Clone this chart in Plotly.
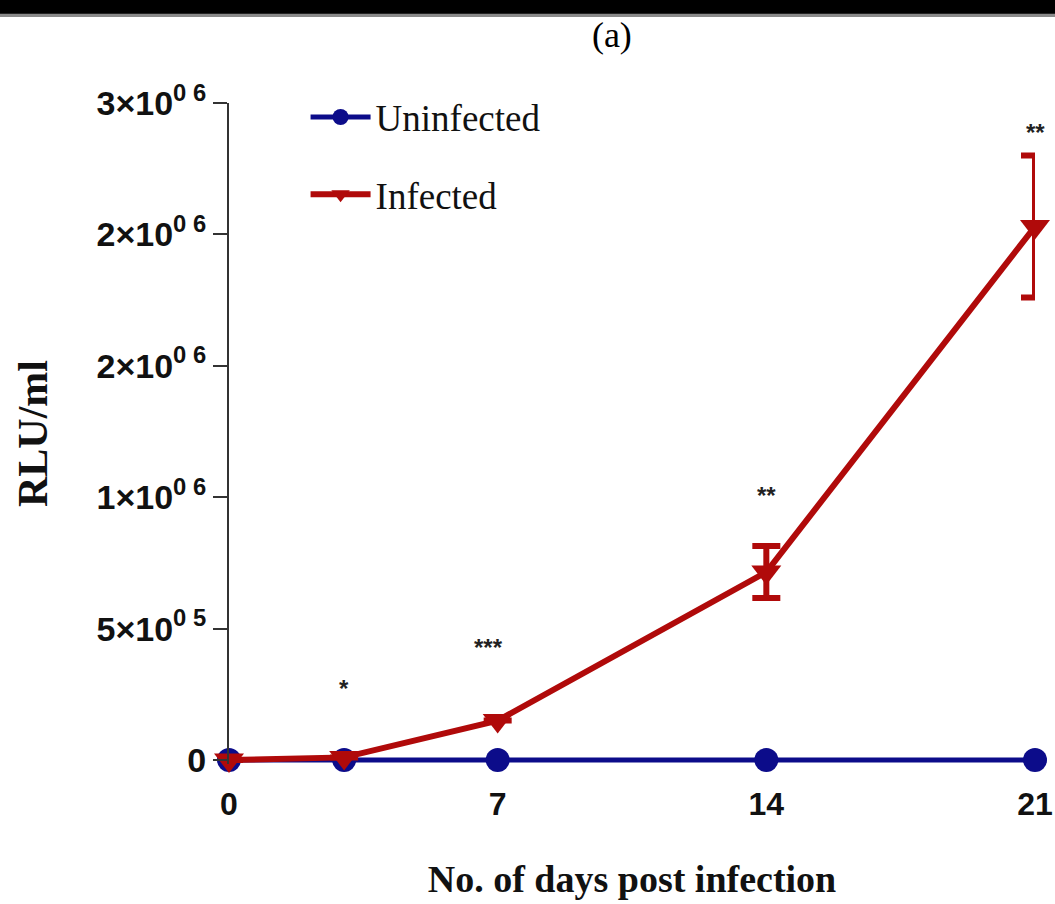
import plotly.graph_objects as go

# Sampling days post infection
days = [0, 3, 7, 14, 21]

# Luminescence readings (RLU/ml)
uninfected = [0, 0, 0, 0, 0]
infected = [0, 10000, 150000, 715000, 2030000]
infected_err = [0, 0, 0, 99000, 270000]

# Significance marks above each time point
sig_days = [3, 6.75, 14, 21]
sig_y = [272000, 428000, 1008000, 2388000]
sig_text = ["*", "***", "**", "**"]

# Axis tick labels
x_ticks = [0, 7, 14, 21]
y_ticks = [0, 500000, 1000000, 1500000, 2000000, 2500000]
y_ticktext = ["0", "5×10<sup>0 5</sup>", "1×10<sup>0 6</sup>", "2×10<sup>0 6</sup>",
              "2×10<sup>0 6</sup>", "3×10<sup>0 6</sup>"]

BLUE = "#0c0c8a"
RED = "#b00a0a"

fig = go.Figure()

fig.add_trace(go.Scatter(
    x=days, y=uninfected, name="Uninfected", mode="lines+markers",
    line=dict(color=BLUE, width=5),
    marker=dict(symbol="circle", size=24, color=BLUE),
    cliponaxis=False, legendgroup="a",
))

fig.add_trace(go.Scatter(
    x=days, y=infected, name="Infected", mode="lines+markers",
    line=dict(color=RED, width=6),
    marker=dict(symbol="triangle-down", size=26, color=RED),
    error_y=dict(type="data", array=infected_err, visible=True,
                 color=RED, thickness=6, width=14),
    cliponaxis=False, legendgroup="b",
))

for xd, yd, t in zip(sig_days, sig_y, sig_text):
    fig.add_annotation(x=xd, y=yd, xref="x", yref="y", text=f"<b>{t}</b>", showarrow=False,
                       font=dict(family="Liberation Sans", size=24, color="#222"))

# dark band across the top of the figure
fig.add_shape(type="rect", xref="paper", yref="paper", x0=-0.5, x1=1.5,
              y0=1.13, y1=1.2, fillcolor="#8a8a8a", line_width=0, layer="above")
fig.add_shape(type="rect", xref="paper", yref="paper", x0=-0.5, x1=1.5,
              y0=1.135, y1=1.2, fillcolor="black", line_width=0, layer="above")

fig.update_layout(
    width=1055, height=904,
    margin=dict(l=229, r=20, t=103, b=140),
    paper_bgcolor="white", plot_bgcolor="white",
    title=dict(text="(a)", x=0.58, xanchor="center", y=1 - 34 / 904, yanchor="middle",
               yref="container", xref="container",
               font=dict(family="Liberation Serif", size=36, color="black")),
    showlegend=True,
    legend=dict(x=0.095, xanchor="left", y=1.025, yanchor="top",
                bgcolor="rgba(0,0,0,0)", tracegroupgap=26,
                font=dict(family="Liberation Serif", size=37, color="#111"),
                itemwidth=60),
    xaxis=dict(range=[0, 21], tickvals=x_ticks, showgrid=False, zeroline=False,
               showline=False, ticks="", ticklabelstandoff=18, ticklabeloverflow="allow",
               automargin=False,
               tickfont=dict(family="Liberation Sans", size=32, color="#111", weight="bold"),
               title=dict(text="<b>No. of days post infection</b>", standoff=44,
                          font=dict(family="Liberation Serif", size=38, color="#111"))),
    yaxis=dict(range=[-15200, 2500000], tickvals=y_ticks, ticktext=y_ticktext,
               showgrid=False, zeroline=False, showline=True, linecolor="#333",
               linewidth=2, ticks="outside", ticklen=14, tickwidth=2, tickcolor="#333",
               automargin=False,
               tickfont=dict(family="Liberation Sans", size=34, color="#111", weight="bold"),
               title=dict(text="<b>RLU/ml</b>", standoff=36,
                          font=dict(family="Liberation Serif", size=42, color="#111"))),
)

fig.write_html("out.html")
